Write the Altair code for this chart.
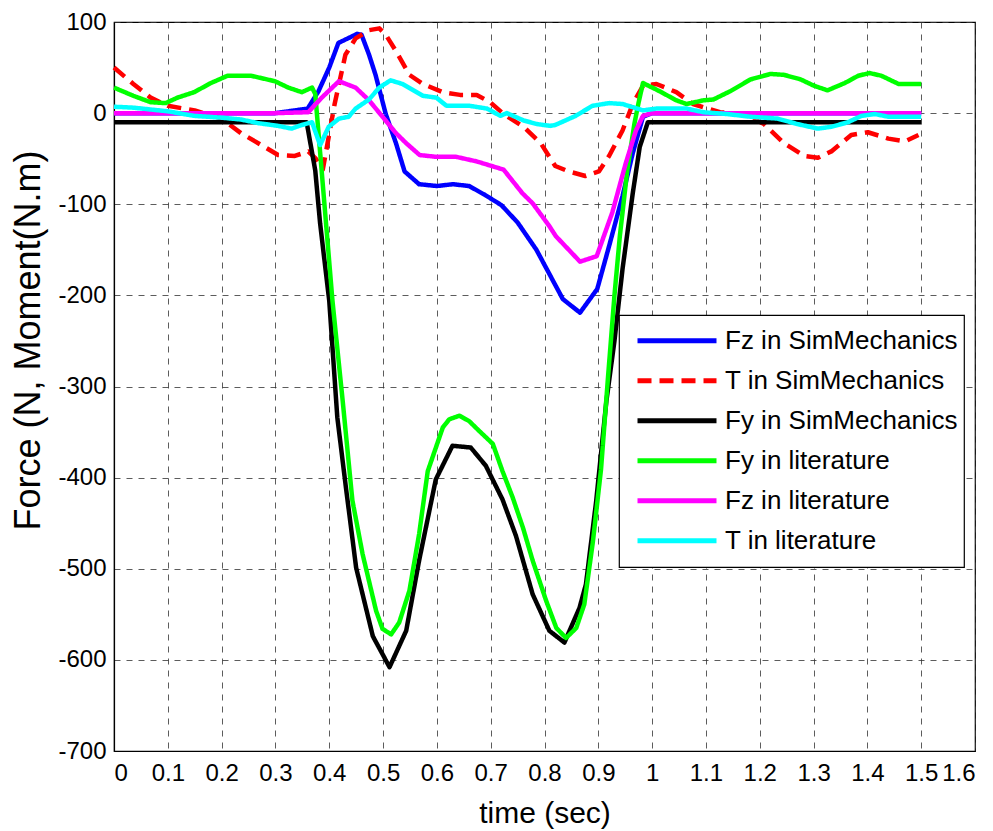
import altair as alt
import pandas as pd

# ---- data ----
names = ["Fz in SimMechanics", "T in SimMechanics", "Fy in SimMechanics",
         "Fy in literature", "Fz in literature", "T in literature"]
colors = ["#0000FF", "#FF0000", "#000000", "#00FF00", "#FF00FF", "#00FFFF"]
dashes = [[1, 0], [14, 8], [1, 0], [1, 0], [1, 0], [1, 0]]

fz_sim_t = [0, 0.1, 0.2, 0.3, 0.36, 0.38, 0.40, 0.417, 0.452, 0.46, 0.474, 0.486, 0.505, 0.524,
            0.54, 0.567, 0.6, 0.63, 0.66, 0.69, 0.72, 0.75, 0.785, 0.834, 0.866, 0.898, 0.92,
            0.945, 0.964, 0.983, 1.0, 1.1, 1.2, 1.3, 1.4, 1.5]
fz_sim_v = [0, 0, 0, 0, 5, 24, 50, 77, 87, 86, 64, 42, -1, -33,
            -64, -78, -80, -78, -80, -90, -101, -120, -150, -204, -219, -193, -146,
            -91, -44, -4, 0, 0, 0, 0, 0, 0]

t_sim_t = [0, 0.036, 0.068, 0.1, 0.15, 0.2, 0.236, 0.268, 0.305, 0.336, 0.361, 0.375, 0.388,
           0.41, 0.43, 0.449, 0.474, 0.493, 0.505, 0.524, 0.549, 0.574, 0.611, 0.643, 0.674,
           0.699, 0.724, 0.761, 0.793, 0.82, 0.845, 0.876, 0.901, 0.92, 0.945, 0.964, 0.983,
           1.008, 1.045, 1.076, 1.126, 1.17, 1.208, 1.245, 1.283, 1.308, 1.333, 1.37, 1.401,
           1.439, 1.47, 1.495]
t_sim_v = [50, 32, 17, 8, 3, -6, -22, -33, -46, -47, -42, -50, -62,
           10, 64, 82, 91, 93, 86, 68, 42, 32, 23, 20, 20,
           12, -1, -15, -33, -58, -64, -69, -64, -47, -19, 10, 30,
           32, 23, 10, 1, -1, -12, -33, -47, -49, -42, -24, -21,
           -28, -31, -24]

fy_sim_t = [0, 0.1, 0.2, 0.3, 0.358, 0.374, 0.383, 0.4, 0.415, 0.431, 0.45, 0.481, 0.512,
            0.543, 0.567, 0.598, 0.629, 0.663, 0.691, 0.722, 0.747, 0.778, 0.809, 0.837,
            0.865, 0.877, 0.896, 0.915, 0.93, 0.945, 0.964, 0.977, 0.992, 1.1, 1.2, 1.3,
            1.4, 1.5]
fy_sim_v = [-10, -10, -10, -10, -10, -63, -121, -206, -334, -411, -499, -574, -608,
            -568, -491, -402, -365, -367, -387, -424, -464, -528, -568, -581,
            -543, -517, -426, -316, -250, -171, -88, -37, -10, -10, -10, -10,
            -10, -10]

fy_lit_t = [0, 0.036, 0.068, 0.096, 0.118, 0.149, 0.18, 0.211, 0.255, 0.299, 0.324, 0.349,
            0.368, 0.374, 0.406, 0.425, 0.443, 0.462, 0.487, 0.499, 0.515, 0.53, 0.549,
            0.567, 0.583, 0.611, 0.623, 0.642, 0.66, 0.679, 0.704, 0.722, 0.741, 0.76,
            0.778, 0.803, 0.822, 0.84, 0.859, 0.874, 0.89, 0.905, 0.918, 0.93, 0.94, 0.954,
            0.967, 0.975, 0.983, 1.014, 1.045, 1.064, 1.095, 1.114, 1.145, 1.183, 1.22,
            1.245, 1.276, 1.301, 1.326, 1.358, 1.383, 1.404, 1.426, 1.458, 1.5]
fy_lit_v = [28, 19, 12, 11, 17, 23, 33, 41, 41, 35, 28, 23,
            28, 21, -206, -316, -425, -484, -546, -566, -572, -559, -524,
            -462, -393, -345, -336, -332, -338, -349, -363, -393, -422, -455,
            -491, -535, -565, -576, -565, -539, -470, -391, -290, -200, -135, -62,
            -12, 12, 33, 24, 14, 10, 14, 15, 24, 37, 43,
            42, 37, 30, 25, 33, 41, 44, 41, 32, 32]

fz_lit_t = [0, 0.1, 0.2, 0.3, 0.361, 0.386, 0.418, 0.449, 0.474, 0.499, 0.524, 0.543, 0.568,
            0.599, 0.636, 0.674, 0.724, 0.759, 0.778, 0.809, 0.821, 0.866, 0.897, 0.926,
            0.951, 0.97, 0.983, 1.0, 1.1, 1.2, 1.3, 1.4, 1.5]
fz_lit_v = [0, 0, 0, 0, 1, 17, 35, 28, 14, -4, -22, -33, -46,
            -48, -48, -53, -62, -88, -99, -124, -135, -163, -157, -109,
            -55, -19, -3, 0, 0, 0, 0, 0, 0]

t_lit_t = [0, 0.036, 0.1, 0.149, 0.2, 0.236, 0.268, 0.305, 0.33, 0.349, 0.368, 0.383, 0.399,
           0.418, 0.436, 0.449, 0.474, 0.493, 0.514, 0.536, 0.574, 0.599, 0.618, 0.661, 0.693,
           0.718, 0.73, 0.761, 0.786, 0.811, 0.82, 0.858, 0.889, 0.92, 0.945, 0.983, 1.008,
           1.064, 1.095, 1.139, 1.183, 1.233, 1.27, 1.308, 1.333, 1.364, 1.389, 1.414, 1.439,
           1.5]
t_lit_v = [7, 6, 2, -3, -5, -7, -11, -14, -17, -13, -10, -35, -15,
           -6, -4, 5, 15, 28, 36, 32, 19, 17, 8, 8, 5,
           -3, 0, -8, -12, -14, -13, -3, 8, 11, 10, 3, 5,
           5, 1, -1, -4, -6, -12, -17, -15, -10, -3, -1, -4,
           -4]

x_ticks = [0, 0.1, 0.2, 0.3, 0.4, 0.5, 0.6, 0.7, 0.8, 0.9, 1, 1.1, 1.2, 1.3, 1.4, 1.5, 1.6]
y_ticks = [-700, -600, -500, -400, -300, -200, -100, 0, 100]

series = [(fz_sim_t, fz_sim_v), (t_sim_t, t_sim_v), (fy_sim_t, fy_sim_v),
          (fy_lit_t, fy_lit_v), (fz_lit_t, fz_lit_v), (t_lit_t, t_lit_v)]

rows = []
for k, (name, (ts, vs)) in enumerate(zip(names, series)):
    for i, (t, v) in enumerate(zip(ts, vs)):
        rows.append({"series": name, "order": k, "idx": i, "t": t, "v": v})
df = pd.DataFrame(rows)

FONT = "Liberation Sans"
W, H = 861, 729

chart = alt.Chart(df).mark_line(strokeWidth=4.5, strokeJoin="round").encode(
    x=alt.X("t:Q",
            scale=alt.Scale(domain=[0, 1.6], nice=False, zero=False),
            axis=alt.Axis(values=x_ticks, labelExpr="toString(datum.value)",
                          title="time (sec)", titleX=W / 2, titleY=62,
                          titleAlign="center", titleBaseline="middle",
                          labelPadding=10)),
    y=alt.Y("v:Q",
            scale=alt.Scale(domain=[-700, 100], nice=False, zero=False),
            axis=alt.Axis(values=y_ticks, labelExpr="toString(datum.value)",
                          title="Force (N, Moment(N.m)", titleX=-86, titleY=318,
                          titleAngle=270, titleAlign="center", titleBaseline="middle",
                          labelPadding=8)),
    color=alt.Color("series:N",
                    scale=alt.Scale(domain=names, range=colors),
                    sort=names, title=None),
    strokeDash=alt.StrokeDash("series:N",
                              scale=alt.Scale(domain=names, range=dashes),
                              sort=names, title=None),
    order=alt.Order("idx:Q"),
    detail="order:O",
).properties(
    width=W, height=H,
    autosize=alt.AutoSizeParams(type="none"),
    padding={"left": 106, "top": 14, "right": 10, "bottom": 80},
).configure_view(
    stroke="black", strokeWidth=1.2
).configure_axis(
    labelFont=FONT, labelFontSize=24, labelColor="black",
    titleFont=FONT, titleFontWeight="normal", titleColor="black",
    grid=True, gridColor="#333333", gridDash=[6, 6], gridWidth=1, gridOpacity=0.8,
    domainColor="black", domainWidth=1.2, ticks=False,
).configure_axisX(
    titleFontSize=30
).configure_axisY(
    titleFontSize=36
).configure_legend(
    orient="none", legendX=505, legendY=293,
    symbolType="stroke", symbolSize=6241, symbolStrokeWidth=5,
    clipHeight=39.5, rowPadding=0, padding=6, symbolOffset=10, labelOffset=6,
    labelFont=FONT, labelFontSize=26, labelColor="black", labelLimit=500,
    fillColor="white", strokeColor="black", strokeWidth=1.2,
)

chart.save("out.html", embed_options={"renderer": "svg", "actions": False})
